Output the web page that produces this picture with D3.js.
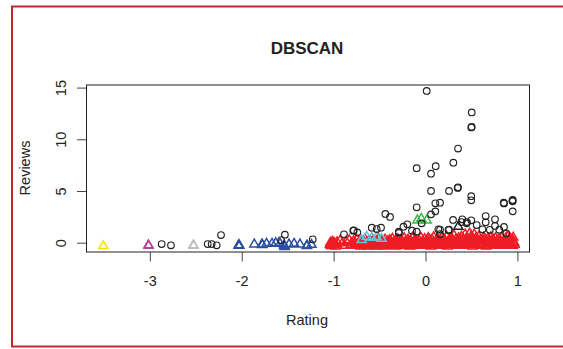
<!DOCTYPE html>
<html>
<head>
<meta charset="utf-8">
<script src="https://cdn.jsdelivr.net/npm/d3@7"></script>
<style>
  body { margin: 0; background: #fff; }
  text { font-family: "Liberation Sans", Arial, sans-serif; fill: #222; }
</style>
</head>
<body>
<script>
// tick labels
var xTicks = [-3, -2, -1, 0, 1];
var yTicks = [0, 5, 10, 15];

// noise points (circles)
var noiseRating = [-2.871, -2.77, -2.37, -2.327, -2.272, -2.225, -1.53, -1.57, -1.227,
  0.013, 0.503, 0.503, 0.498, 0.354, 0.303, 0.111, -0.096, 0.06, 0.06, 0.256, 0.354, 0.35,
  -0.096, 0.06, 0.107, 0.107, 0.158, 0.498, 0.498, -0.437, -0.386, 0.851, 0.855, 0.949, 0.949,
  0.945, 0.949, 0.655, 0.655, 0.756, 0.756, 0.803, 0.854, 0.30, 0.40, 0.498, 0.557, 0.448,
  0.256, 0.158, 0.158, -0.042, -0.24, -0.198, -0.29, -0.29, -0.147, -0.096, -0.484, -0.531,
  -0.585, -0.786, -0.78, -0.742, -0.887, 0.14, 0.25, 0.39, 0.45, 0.62, 0.70, 0.88];
var noiseReviews = [-0.13, -0.25, -0.13, -0.13, -0.25, 0.74, 0.77, 0.26, 0.33,
  14.67, 12.6, 11.2, 11.15, 9.1, 7.74, 7.4, 7.2, 6.67, 5.0, 5.0, 5.36, 5.3,
  3.42, 2.74, 3.03, 3.81, 3.87, 4.5, 4.1, 2.78, 2.49, 3.87, 3.8, 4.13, 4.0,
  4.05, 3.03, 2.58, 1.97, 2.26, 1.62, 1.26, 1.52, 2.2, 2.26, 2.17, 1.71, 1.87,
  1.26, 1.26, 0.84, 1.87, 1.55, 1.78, 1.07, 0.95, 1.16, 1.07, 1.45, 1.32,
  1.45, 1.16, 1.2, 1.0, 0.81, 1.3, 1.23, 2.0, 2.0, 1.3, 1.25, 0.9];

// cluster 1 (red)
var redRating = [-1.04, -1.035, -1.03, -1.02, -1.012, -1.0, -0.992, -0.98, -0.962, -0.93, -0.905, -0.88, -0.862, -0.83, -0.812, -0.8,
  -0.782, -0.77, -0.761, -0.748, -0.742, -0.723, -0.708, -0.7, -0.689, -0.681, -0.67, -0.658, -0.65, -0.64, -0.631, -0.618, -0.61,
  -0.6, -0.592, -0.58, -0.571, -0.562, -0.55, -0.541, -0.532, -0.52, -0.512, -0.5, -0.49, -0.482, -0.47, -0.461, -0.452, -0.44, -0.43, -0.421, -0.41,
  -0.402, -0.39, -0.381, -0.37, -0.36, -0.352, -0.34, -0.331, -0.322, -0.31, -0.3, -0.291, -0.28, -0.272, -0.26, -0.251, -0.24, -0.232, -0.22, -0.21,
  -0.2, -0.19, -0.182, -0.17, -0.161, -0.15, -0.142, -0.13, -0.12, -0.111, -0.1, -0.092, -0.08, -0.071, -0.06, -0.05, -0.041, -0.03, -0.02, -0.01,
  0.0, 0.01, 0.021, 0.03, 0.04, 0.052, 0.06, 0.071, 0.08, 0.09, 0.1, 0.112, 0.12, 0.13, 0.141, 0.15, 0.16, 0.172, 0.18, 0.19,
  0.2, 0.21, 0.221, 0.23, 0.24, 0.252, 0.26, 0.27, 0.281, 0.29, 0.3, 0.31, 0.322, 0.33, 0.34, 0.35, 0.361, 0.37, 0.38, 0.392,
  0.4, 0.41, 0.42, 0.431, 0.44, 0.45, 0.462, 0.47, 0.48, 0.49, 0.5, 0.511, 0.52, 0.53, 0.54, 0.551, 0.56, 0.57, 0.58, 0.592,
  0.6, 0.61, 0.62, 0.632, 0.64, 0.65, 0.66, 0.671, 0.68, 0.69, 0.7, 0.712, 0.72, 0.73, 0.74, 0.75, 0.762, 0.77, 0.78, 0.79,
  0.8, 0.81, 0.82, 0.831, 0.84, 0.85, 0.86, 0.872, 0.88, 0.89, 0.9, 0.91, 0.92, 0.93, 0.94, 0.95, 0.955, 0.962, 0.97,
  -1.025, -1.008, -0.975, -0.72, -0.695, -0.655, -0.545, -0.505, -0.465, -0.415, -0.385, -0.345, -0.305, -0.265, -0.225,
  -0.185, -0.145, -0.105, -0.065, -0.025, 0.015, 0.045, 0.085, 0.125, 0.165, 0.205, 0.245, 0.285, 0.325, 0.365,
  0.405, 0.445, 0.485, 0.505, 0.525, 0.565, 0.605, 0.645, 0.685, 0.725, 0.765, 0.805, 0.845, 0.885, 0.925, 0.945, 0.965];
var redReviews = [-0.1, 0.1, -0.2, 0.0, 0.2, -0.15, 0.05, -0.25, 0.15, 0.3, 0.05, -0.2, 0.2, 0.35, -0.1, 0.1,
  0.25, -0.2, 0.0, 0.4, -0.1, 0.15, -0.25, 0.3, 0.05, -0.15, 0.2, 0.45, -0.05, 0.1, -0.25, 0.3, 0.0,
  0.2, -0.2, 0.05, 0.35, -0.1, 0.15, -0.25, 0.25, 0.0, 0.5, -0.15, 0.1, 0.3, -0.05, 0.2, -0.25, 0.4, 0.05, -0.1, 0.25,
  0.0, 0.35, -0.2, 0.15, 0.5, -0.05, 0.2, -0.25, 0.3, 0.05, 0.45, -0.15, 0.1, 0.3, -0.05, 0.2, -0.2, 0.55, 0.0, 0.25,
  -0.1, 0.4, 0.1, -0.25, 0.3, 0.0, 0.6, -0.15, 0.2, 0.45, -0.05, 0.15, -0.2, 0.35, 0.05, 0.6, -0.1, 0.25, 0.0, 0.45,
  -0.2, 0.3, 0.1, 0.55, -0.05, 0.2, -0.25, 0.4, 0.05, 0.65, -0.1, 0.25, 0.0, 0.5, -0.2, 0.15, 0.35, -0.05, 0.6, 0.1,
  -0.15, 0.3, 0.05, 0.7, -0.25, 0.2, 0.45, 0.0, 0.6, -0.1, 0.25, 0.8, 0.05, 0.4, -0.2, 0.15, 0.55, -0.05, 0.3, 0.7,
  0.0, 0.45, -0.2, 0.9, 0.15, 0.6, -0.1, 0.35, 1.0, 0.05, 0.75, -0.25, 0.4, 0.9, 0.1, 0.55, -0.1, 0.3, 0.7, 0.0,
  0.4, -0.2, 0.2, 0.6, 0.0, 0.35, -0.25, 0.15, 0.5, -0.05, 0.25, 0.65, 0.05, -0.15, 0.4, 0.1, 0.55, -0.1, 0.3, 0.0,
  0.45, -0.2, 0.2, 0.6, 0.0, 0.3, -0.15, 0.5, 0.1, 0.7, -0.05, 0.25, 0.55, 0.0, 0.35, -0.2, 0.6, 0.15, -0.1,
  -0.22, 0.12, -0.05, -0.12, 0.1, -0.2, 0.08, -0.22, 0.12, -0.18, 0.08, -0.12, 0.15, -0.22, 0.1,
  0.2, -0.22, 0.3, -0.15, 0.15, -0.1, 0.4, -0.15, 0.3, -0.2, 0.4, -0.12, 0.3, -0.1, 0.25,
  -0.1, 0.3, -0.15, 0.55, -0.05, 0.2, -0.12, 0.45, -0.2, 0.35, -0.15, 0.1, -0.2, 0.3, -0.12, 0.4, 0.05];

// cluster 2 (green)
var greenRating = [-0.089, -0.046, 0.013];
var greenReviews = [2.26, 2.42, 2.26];

// cluster 3 (blue)
var blueRating = [-2.03, -2.025, -2.035, -1.863, -1.78, -1.775, -1.73, -1.67, -1.63, -1.583,
  -1.536, -1.532, -1.54, -1.485, -1.43, -1.366, -1.293, -1.288, -1.24];
var blueReviews = [-0.13, -0.2, -0.16, -0.06, -0.06, -0.12, 0.0, 0.0, 0.07, 0.0,
  -0.22, -0.3, -0.15, -0.06, 0.0, -0.06, -0.22, -0.16, -0.1];

// cluster 4 (cyan)
var cyanRating = [-0.694, -0.64, -0.585, -0.531, -0.477];
var cyanReviews = [0.36, 0.68, 0.58, 0.65, 0.48];

// cluster 5 (magenta), 6 (yellow), 7 (gray), 8 (black)
var magentaRating = [-3.016, -3.012];
var magentaReviews = [-0.15, -0.2];
var yellowRating = [-3.506];
var yellowReviews = [-0.22];
var grayRating = [-2.527, -2.523];
var grayReviews = [-0.15, -0.2];
var blackTriRating = [0.357];
var blackTriReviews = [1.65];

var width = 563, height = 349;
var boxL = 86.5, boxR = 529.5, boxT = 85, boxB = 252;

var svg = d3.select("body").append("svg")
  .attr("width", width)
  .attr("height", height);

svg.append("rect").attr("width", width).attr("height", height).attr("fill", "#fff");

// red frame round the figure
svg.append("rect")
  .attr("x", 12).attr("y", 6.5)
  .attr("width", 600).attr("height", 340)
  .attr("fill", "none")
  .attr("stroke", "#c1272d")
  .attr("stroke-width", 2);

var x = d3.scaleLinear().domain([-3.689, 1.1317]).range([boxL, boxR]);
var y = d3.scaleLinear().domain([-0.9, 15.25]).range([boxB, boxT]);

var xAxis = svg.append("g")
  .attr("transform", "translate(0," + boxB + ")")
  .call(d3.axisBottom(x).tickValues(xTicks).tickSize(9.5).tickPadding(14).tickFormat(function(d) { return String(d); }));
xAxis.selectAll("text").attr("font-size", 14.5).attr("font-family", "Liberation Sans, Arial").attr("fill", "#222");

var yAxis = svg.append("g")
  .attr("transform", "translate(" + boxL + ",0)")
  .call(d3.axisLeft(y).tickValues(yTicks).tickSize(9.5).tickFormat(function(d) { return String(d); }));
yAxis.selectAll("text")
  .attr("font-size", 14.5)
  .attr("font-family", "Liberation Sans, Arial")
  .attr("fill", "#222")
  .attr("text-anchor", "middle")
  .attr("dy", null)
  .attr("x", null)
  .attr("transform", "translate(-25.5,0) rotate(-90)")
  .attr("dominant-baseline", "central");
svg.selectAll(".domain").remove();
svg.selectAll(".tick line").attr("stroke", "#444");

svg.append("rect")
  .attr("x", boxL).attr("y", boxT)
  .attr("width", boxR - boxL).attr("height", boxB - boxT)
  .attr("fill", "none").attr("stroke", "#222").attr("stroke-width", 1);

var tri = "M0,-4.2L4.5,3.6L-4.5,3.6Z";

function triangles(xs, ys, color) {
  svg.append("g").selectAll("path")
    .data(xs.map(function(d, i) { return [d, ys[i]]; }))
    .enter().append("path")
    .attr("d", tri)
    .attr("transform", function(d) { return "translate(" + x(d[0]) + "," + y(d[1]) + ")"; })
    .attr("fill", "none")
    .attr("stroke", color)
    .attr("stroke-width", 1.5);
}

triangles(redRating, redReviews, "#ee1d25");
triangles(greenRating, greenReviews, "#3cb54a");
triangles(blueRating, blueReviews, "#2b4fa2");
triangles(cyanRating, cyanReviews, "#5ec6e4");
triangles(magentaRating, magentaReviews, "#b0479b");
triangles(yellowRating, yellowReviews, "#f2e400");
triangles(grayRating, grayReviews, "#bdbdbd");
triangles(blackTriRating, blackTriReviews, "#222");

svg.append("g").selectAll("circle")
  .data(noiseRating.map(function(d, i) { return [d, noiseReviews[i]]; }))
  .enter().append("circle")
  .attr("cx", function(d) { return x(d[0]); })
  .attr("cy", function(d) { return y(d[1]); })
  .attr("r", 3.3)
  .attr("fill", "none")
  .attr("stroke", "#222")
  .attr("stroke-width", 1.15);

// titles
svg.append("text")
  .attr("x", 307).attr("y", 54)
  .attr("text-anchor", "middle")
  .attr("font-size", 17).attr("font-weight", "bold")
  .text("DBSCAN");

svg.append("text")
  .attr("x", 307).attr("y", 325)
  .attr("text-anchor", "middle")
  .attr("font-size", 14.5)
  .text("Rating");

svg.append("text")
  .attr("transform", "translate(30,168) rotate(-90)")
  .attr("text-anchor", "middle")
  .attr("font-size", 14.5)
  .text("Reviews");
</script>
</body>
</html>
